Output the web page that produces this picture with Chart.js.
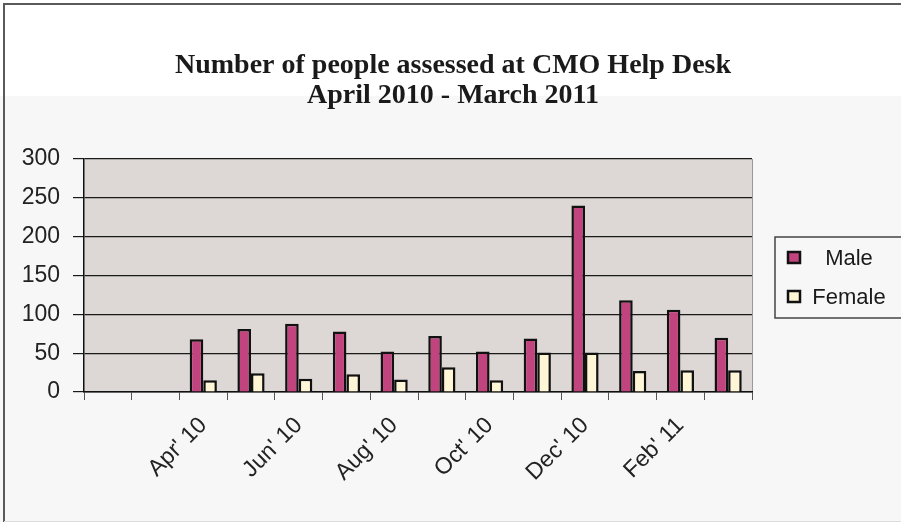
<!doctype html>
<html lang="en">
  <head>
    <meta charset="utf-8">
    <title>CMO Help Desk</title>
    <style>
      * { margin: 0; padding: 0; }
      body { background: #f7f7f7; width: 901px; height: 522px; overflow: hidden; }
      .chartBox { position: absolute; left: 0; top: 0; width: 901px; height: 522px; }
    </style>
  </head>
  <body>
    <div class="chartBox">
      <canvas id="myChart" width="901" height="522"></canvas>
    </div>
    <script src="https://cdn.jsdelivr.net/npm/chart.js"></script>
    <script>
    // setup
    const categories = ['', '', "Apr' 10", "May' 10", "Jun' 10", "Jul' 10", "Aug' 10", "Sep' 10",
      "Oct' 10", "Nov' 10", "Dec' 10", "Jan' 11", "Feb' 11", "Mar' 11"];
    const maleValues = [null, null, 68, 81, 88, 78, 52, 72, 52, 69, 240, 118, 106, 70];
    const femaleValues = [null, null, 15, 24, 17, 23, 16, 32, 15, 51, 51, 27, 28, 28];
    const yTicks = [0, 50, 100, 150, 200, 250, 300];
    const titleLines = ['Number of people assessed at CMO Help Desk', 'April 2010 - March 2011'];

    const sans = "'Liberation Sans', Arial, sans-serif";

    // background, frame, title and boxed legend
    const decor = {
      id: 'decor',
      beforeDraw(chart) {
        const ctx = chart.ctx;
        const a = chart.chartArea;
        ctx.save();
        ctx.fillStyle = '#ffffff';
        ctx.fillRect(0, 0, chart.width, 96);
        ctx.fillStyle = '#f7f7f7';
        ctx.fillRect(0, 96, chart.width, chart.height - 96);
        ctx.fillStyle = '#ddd8d5';
        ctx.fillRect(a.left, a.top, a.right - a.left, a.bottom - a.top);
        ctx.strokeStyle = '#999';
        ctx.lineWidth = 1;
        ctx.beginPath();
        ctx.moveTo(a.right + 0.5, a.top);
        ctx.lineTo(a.right + 0.5, a.bottom + 8);
        ctx.stroke();
        // outer frame
        ctx.strokeStyle = '#5a5a5a';
        ctx.lineWidth = 2;
        ctx.beginPath();
        ctx.moveTo(4, chart.height);
        ctx.lineTo(4, 4);
        ctx.lineTo(chart.width, 4);
        ctx.stroke();
        ctx.strokeStyle = '#ddd';
        ctx.lineWidth = 1;
        ctx.beginPath();
        ctx.moveTo(4, chart.height - 0.5);
        ctx.lineTo(chart.width, chart.height - 0.5);
        ctx.stroke();
        ctx.restore();
      },
      afterDraw(chart) {
        const ctx = chart.ctx;
        ctx.save();
        ctx.fillStyle = '#1a1a1a';
        ctx.textAlign = 'center';
        ctx.textBaseline = 'alphabetic';
        ctx.font = "bold 28px 'Liberation Serif', 'Times New Roman', serif";
        ctx.fillText(titleLines[0], 453, 73);
        ctx.fillText(titleLines[1], 453, 103);

        // legend box
        ctx.textBaseline = 'middle';
        ctx.strokeStyle = '#444';
        ctx.lineWidth = 1.5;
        ctx.strokeRect(775, 237, 130, 81);
        ctx.font = '22px ' + sans;
        const rows = [258, 297];
        chart.data.datasets.forEach((ds, i) => {
          ctx.fillStyle = ds.backgroundColor;
          ctx.fillRect(788, rows[i] - 6, 12, 11);
          ctx.strokeStyle = '#111';
          ctx.lineWidth = 2.5;
          ctx.strokeRect(788, rows[i] - 6, 12, 11);
          ctx.fillStyle = '#1a1a1a';
          ctx.fillText(ds.label, 849, rows[i] + 1);
        });
        ctx.restore();
      }
    };

    const data = {
      labels: categories,
      datasets: [{
        label: 'Male',
        data: maleValues,
        backgroundColor: '#c2447f',
        borderColor: '#111',
        borderWidth: 2.5,
        categoryPercentage: 0.57,
        barPercentage: 1
      }, {
        label: 'Female',
        data: femaleValues,
        backgroundColor: '#fff6d6',
        borderColor: '#111',
        borderWidth: 2.5,
        categoryPercentage: 0.57,
        barPercentage: 1
      }]
    };

    // config
    const config = {
      type: 'bar',
      data,
      plugins: [decor],
      options: {
        responsive: false,
        animation: false,
        layout: { padding: { left: 0, top: 159, right: 149, bottom: 0 } },
        plugins: {
          legend: { display: false },
          title: { display: false },
          tooltip: { enabled: false }
        },
        scales: {
          x: {
            afterFit: (scale) => { scale.height = 130; },
            grid: { offset: true, drawOnChartArea: false, drawTicks: true, tickLength: 8, color: '#555' },
            border: { color: '#111', width: 1.5 },
            ticks: {
              autoSkip: false,
              minRotation: 45,
              maxRotation: 45,
              padding: 12,
              color: '#222',
              font: { family: sans, size: 23 },
              callback: function (value, index) {
                return index % 2 === 0 ? categories[index] : '';
              }
            }
          },
          y: {
            min: 0,
            max: 300,
            afterFit: (scale) => { scale.width = 84; },
            afterBuildTicks: (scale) => { scale.ticks = yTicks.map(v => ({ value: v })); },
            grid: { color: '#1a1a1a', lineWidth: 1.2, tickLength: 11 },
            border: { color: '#111', width: 1.5 },
            ticks: {
              padding: 13,
              color: '#222',
              font: { family: sans, size: 23 }
            }
          }
        }
      }
    };

    // render init block
    const myChart = new Chart(document.getElementById('myChart'), config);
    </script>
  </body>
</html>
